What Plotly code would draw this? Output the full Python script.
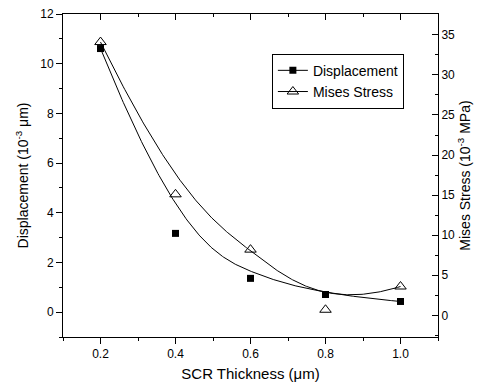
import numpy as np
import plotly.graph_objects as go

# Data
thickness = [0.2, 0.4, 0.6, 0.8, 1.0]            # SCR thickness (um)
displacement = [10.61, 3.17, 1.36, 0.71, 0.43]   # 10^-3 um
mises_stress = [34.1, 15.1, 8.2, 0.7, 3.6]       # 10^-3 MPa


def bspline_basis(i, k, t, knots):
    """Cox-de Boor recursion for basis N_{i,k}(t)."""
    if k == 0:
        left, right = knots[i], knots[i + 1]
        if right == knots[-1]:
            return ((t >= left) & (t <= right)).astype(float)
        return ((t >= left) & (t < right)).astype(float)
    out = np.zeros_like(t)
    d1 = knots[i + k] - knots[i]
    if d1 > 0:
        out += (t - knots[i]) / d1 * bspline_basis(i, k - 1, t, knots)
    d2 = knots[i + k + 1] - knots[i + 1]
    if d2 > 0:
        out += (knots[i + k + 1] - t) / d2 * bspline_basis(i + 1, k - 1, t, knots)
    return out


def bspline_curve(px, py, degree=3, n=300):
    """Clamped B-spline using the data points as control points (Origin 'B-Spline' connection)."""
    px = np.asarray(px, float)
    py = np.asarray(py, float)
    m = len(px)
    inner = np.linspace(0, 1, m - degree + 1)[1:-1]
    knots = np.concatenate([np.zeros(degree + 1), inner, np.ones(degree + 1)])
    t = np.linspace(0, 1, n)
    B = np.array([bspline_basis(i, degree, t, knots) for i in range(m)])
    return B.T @ px, B.T @ py


xd_curve, yd_curve = bspline_curve(thickness, displacement)
xs_curve, ys_curve = bspline_curve(thickness, mises_stress)

FONT = "Liberation Sans, Arial, sans-serif"
fig = go.Figure()
fig.add_trace(go.Scatter(x=xd_curve, y=yd_curve, mode="lines", line=dict(color="black", width=1),
                         showlegend=False, hoverinfo="skip"))
fig.add_trace(go.Scatter(x=xs_curve, y=ys_curve, mode="lines", line=dict(color="black", width=1),
                         showlegend=False, yaxis="y2", hoverinfo="skip"))
fig.add_trace(go.Scatter(x=thickness, y=displacement, mode="markers", name="Displacement",
                         marker=dict(symbol="square", size=7, color="black"),
                         showlegend=False))
fig.add_trace(go.Scatter(x=thickness, y=mises_stress, mode="markers", name="Mises Stress",
                         marker=dict(symbol="triangle-up-open", size=10, color="black",
                                     line=dict(width=1, color="black")),
                         yaxis="y2", showlegend=False))
# legend entries
fig.add_trace(go.Scatter(x=[None], y=[None], mode="lines+markers", name="Displacement",
                         line=dict(color="black", width=1),
                         marker=dict(symbol="square", size=7, color="black")))
fig.add_trace(go.Scatter(x=[None], y=[None], mode="lines+markers", name="Mises Stress",
                         line=dict(color="black", width=1),
                         marker=dict(symbol="triangle-up-open", size=10, color="black",
                                     line=dict(width=1, color="black"))))

axis_common = dict(showline=True, linecolor="black", linewidth=1, showgrid=False,
                   zeroline=False, tickcolor="black", automargin=False,
                   ticklabeloverflow="allow",
                   tickfont=dict(size=12, color="black", family=FONT))

# page body has an 8px default margin; figure sized so the whole page is 484x389
fig.update_layout(
    width=476, height=381,
    margin=dict(l=55, r=46, t=6, b=52, autoexpand=False),
    paper_bgcolor="white", plot_bgcolor="white",
    font=dict(family=FONT, color="black"),
    xaxis=dict(range=[0.1, 1.1], tick0=0.2, dtick=0.2, ticks="outside", ticklen=6,
               tickformat=".1f",
               minor=dict(dtick=0.1, tick0=0.1, ticks="outside", ticklen=3, tickcolor="black"),
               title=dict(text="SCR Thickness (μm)", font=dict(size=15), standoff=8),
               **axis_common),
    xaxis2=dict(range=[0.1, 1.1], tick0=0.2, dtick=0.2, ticks="inside", ticklen=6,
                overlaying="x", side="top", showticklabels=False,
                minor=dict(dtick=0.1, tick0=0.1, ticks="inside", ticklen=3, tickcolor="black"),
                **axis_common),
    yaxis=dict(range=[-1, 12.0001], tick0=0, dtick=2, ticks="outside", ticklen=6,
               minor=dict(dtick=1, tick0=1, ticks="outside", ticklen=3, tickcolor="black"),
               title=dict(text="Displacement (10<sup>-3</sup> μm)", font=dict(size=14), standoff=8),
               **axis_common),
    yaxis2=dict(range=[-2.7, 37.6], tick0=0, dtick=5, ticks="inside", ticklen=6,
                overlaying="y", side="right",
                minor=dict(dtick=2.5, tick0=2.5, ticks="inside", ticklen=3, tickcolor="black"),
                title=dict(text="Mises Stress (10<sup>-3</sup> MPa)", font=dict(size=14), standoff=6),
                **axis_common),
    legend=dict(x=0.557, y=0.877, xanchor="left", yanchor="top",
                bordercolor="black", borderwidth=1, bgcolor="white",
                font=dict(size=14, color="black", family=FONT),
                tracegroupgap=0, itemwidth=30),
)
# dummy trace to activate xaxis2
fig.add_trace(go.Scatter(x=[None], y=[None], xaxis="x2", showlegend=False))

fig.write_html("out.html")
